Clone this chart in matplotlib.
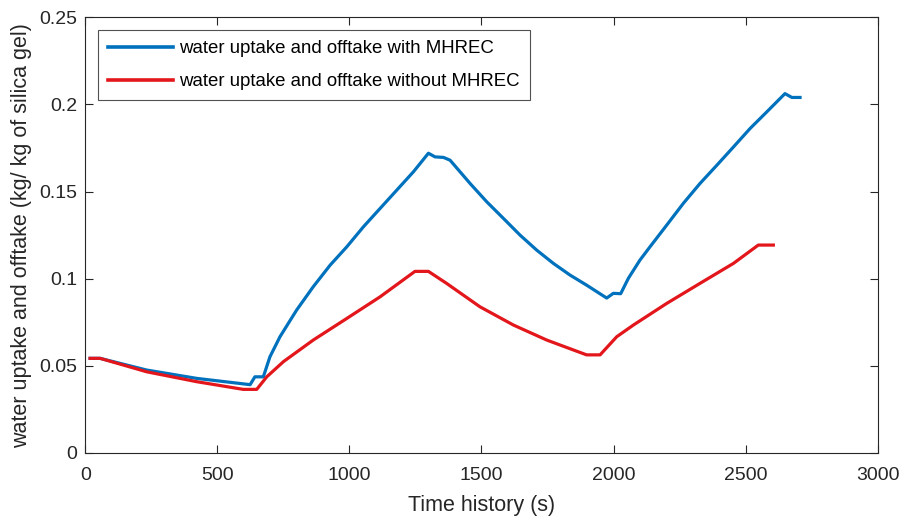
import matplotlib
matplotlib.use("Agg")
import matplotlib.pyplot as plt

plt.rcParams['font.family'] = ['Liberation Sans', 'DejaVu Sans']

# Series with MHREC (blue)
time_with = [18, 56, 232, 422, 624, 642, 674, 699, 737, 800, 863, 927, 990, 1053, 1116,
             1179, 1242, 1299, 1324, 1356, 1381, 1457, 1520, 1583, 1646, 1709, 1772, 1835,
             1898, 1974, 1999, 2027, 2056, 2100, 2138, 2201, 2264, 2327, 2391, 2454, 2517,
             2580, 2649, 2675, 2706]
uptake_with = [0.0543, 0.0543, 0.0476, 0.0428, 0.0392, 0.0437, 0.0437, 0.0552, 0.0667, 0.0820,
               0.0954, 0.1078, 0.1183, 0.1298, 0.1403, 0.1508, 0.1613, 0.1720, 0.1699, 0.1696,
               0.1680, 0.1546, 0.1441, 0.1346, 0.1250, 0.1164, 0.1088, 0.1021, 0.0963, 0.0889,
               0.0916, 0.0914, 0.1002, 0.1107, 0.1183, 0.1307, 0.1432, 0.1546, 0.1651, 0.1756,
               0.1862, 0.1957, 0.2062, 0.2040, 0.2040]

# Series without MHREC (red)
time_without = [18, 56, 232, 422, 598, 649, 687, 750, 863, 990, 1116, 1248, 1299, 1368, 1494,
                1621, 1747, 1848, 1898, 1949, 2012, 2075, 2201, 2327, 2454, 2548, 2605]
uptake_without = [0.0543, 0.0543, 0.0466, 0.0409, 0.0365, 0.0365, 0.0437, 0.0524, 0.0648, 0.0772,
                  0.0896, 0.1042, 0.1042, 0.0973, 0.0839, 0.0734, 0.0648, 0.0591, 0.0563, 0.0563,
                  0.0667, 0.0734, 0.0858, 0.0973, 0.1088, 0.1193, 0.1193]

labels = ["water uptake and offtake with MHREC", "water uptake and offtake without MHREC"]
x_ticks = [0, 500, 1000, 1500, 2000, 2500, 3000]
y_ticks = [0, 0.05, 0.1, 0.15, 0.2, 0.25]
y_tick_labels = ["0", "0.05", "0.1", "0.15", "0.2", "0.25"]

fig = plt.figure(figsize=(9, 5.19), dpi=100)
ax = fig.add_axes([0.0948, 0.1272, 0.8804, 0.8395])

ax.plot(time_with, uptake_with, color='#0072BD', lw=2.3, label=labels[0])
ax.plot(time_without, uptake_without, color='#E3161B', lw=2.3, label=labels[1])

ax.set_xlim(0, 3000)
ax.set_ylim(0, 0.25)
ax.set_xticks(x_ticks)
ax.set_yticks(y_ticks)
ax.set_yticklabels(y_tick_labels)

ax.tick_params(direction='in', length=6, width=0.8, top=True, right=True,
               labelsize=14, colors='#262626')
ax.tick_params(axis='x', pad=10)
ax.tick_params(axis='y', pad=6)
for s in ax.spines.values():
    s.set_color('#262626')
    s.set_linewidth(0.8)

ax.set_xlabel("Time history (s)", fontsize=15.5, color='#262626', labelpad=8)
ax.set_ylabel("water uptake and offtake (kg/ kg of silica gel)", fontsize=15.5,
              color='#262626', labelpad=5)

leg = ax.legend(loc='upper left', bbox_to_anchor=(0.016, 0.971), fontsize=13.4,
                frameon=True, fancybox=False, handlelength=3.5, handletextpad=0.3,
                borderpad=0.55, labelspacing=0.85, borderaxespad=0)
leg.get_frame().set_edgecolor('#262626')
leg.get_frame().set_linewidth(0.8)
for line in leg.get_lines():
    line.set_linewidth(2.6)

fig.savefig("out.png", dpi=100, facecolor='white')
